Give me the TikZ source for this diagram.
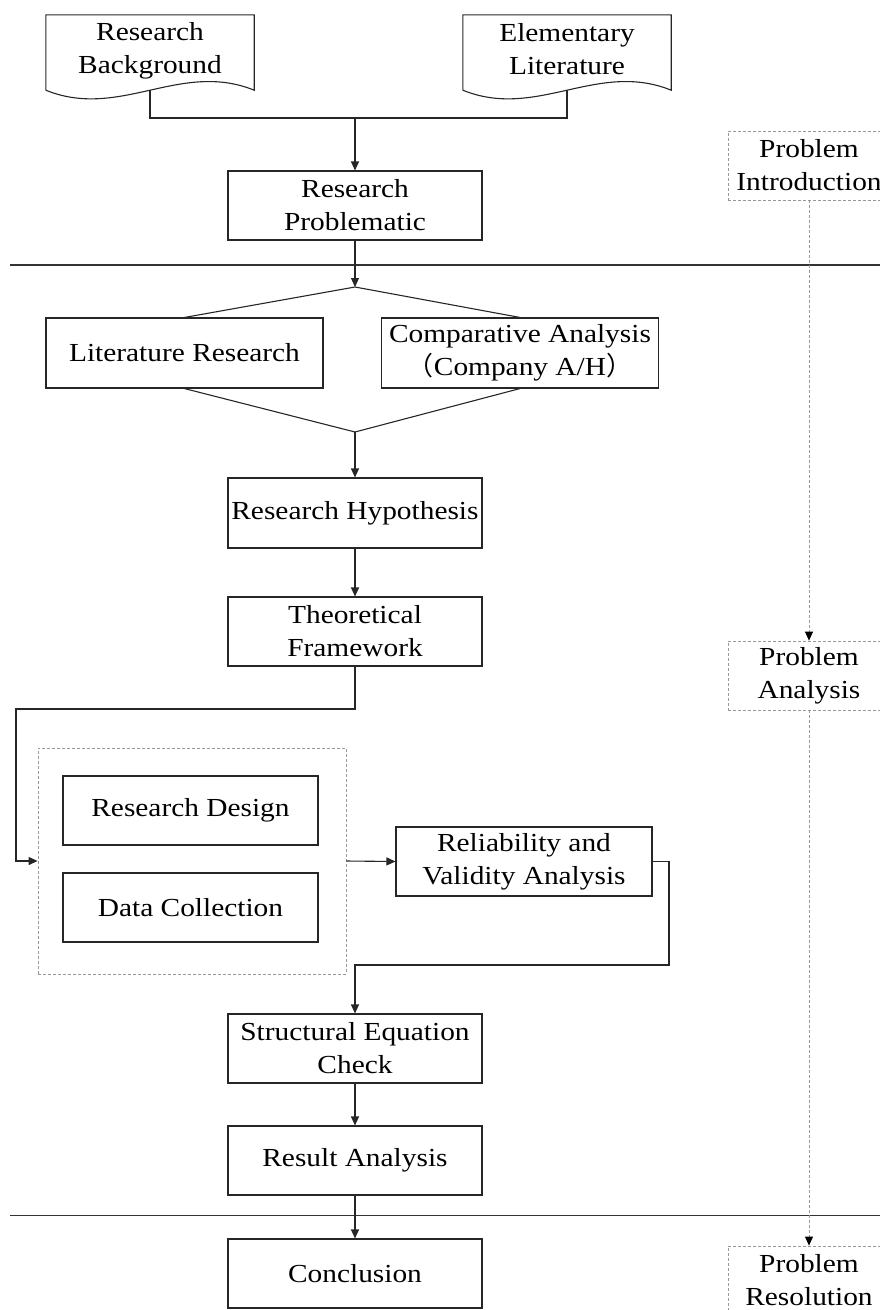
\documentclass[tikz,border=0pt]{standalone}
\usepackage{fontspec}
\setmainfont{Liberation Serif}[FakeStretch=1.13]
\newfontfamily\cjkfont{Noto Sans CJK SC}
\usetikzlibrary{arrows.meta,calc}

\begin{document}
\begin{tikzpicture}[x=1pt,y=-1pt,
  font=\fontsize{26}{33}\selectfont,
  wire/.style={draw=black!85, line width=1.1pt},
  arrow/.style={wire, -{Triangle[length=9pt,width=8pt]}},
  box/.style={wire, align=center, inner sep=0pt, minimum width=#1, minimum height=69pt},
  box/.default=254pt,
  doctext/.style={align=center, inner sep=0pt, minimum width=208pt, minimum height=66pt},
  phase/.style={draw=black!40, line width=0.8pt, dash pattern=on 3pt off 2pt,
    align=center, inner sep=0pt, minimum width=162pt, minimum height=69pt},
  phasearrow/.style={draw=black!40, line width=0.8pt, dash pattern=on 3pt off 2pt,
    -{Triangle[length=9pt,width=8pt,color=black]}},
  group/.style={draw=black!40, line width=0.8pt, dash pattern=on 3pt off 2pt,
    minimum width=308pt, minimum height=226pt, inner sep=0pt},
  rule/.style={draw=black!80, line width=1.1pt}
]
\useasboundingbox (0,0) rectangle (880,1310);

% source documents (text frame plus wavy lower edge)
\node[doctext] (bg) at (150,48) {};
\node[doctext] (el) at (567,48) {};
\node[align=center, inner sep=0pt] (bgtext) at (150,51) {Research\\Background};
\node[align=center, inner sep=0pt] (eltext) at (567,49) {Elementary\\Literature};
\foreach \d in {bg,el}{
  \draw[wire] ($(\d.south west)+(0,9)$) -- (\d.north west) -- (\d.north east)
    -- ($(\d.south east)+(0,9)$)
    .. controls ($(\d.south east)+(-74,-21)$) and ($(\d.south west)+(74,39)$)
    .. ($(\d.south west)+(0,9)$);
}
\coordinate (bgfoot) at ($(bg.south)+(0,9)$);
\coordinate (elfoot) at ($(el.south)+(0,9)$);
\coordinate (jn) at (355,118);

% main flow
\node[box] (rp) at (355,205.5) {Research\\Problematic};
\node[box=277pt, minimum height=70pt] (lr) at (184.5,353) {Literature Research};
\node[box=277pt, minimum height=70pt] (ca) at (520,353) {Comparative Analysis\\{\cjkfont （}Company A/H{\cjkfont ）}};
\node[box, minimum height=70pt] (rh) at (355,513) {Research Hypothesis};
\node[box] (tf) at (355,631.5) {Theoretical\\Framework};

\node[group] (grp) at (192,861) {};
\node[box=255pt] (rd) at (190.5,810.5) {Research Design};
\node[box=255pt] (dc) at (190.5,907.5) {Data Collection};
\node[box=256pt] (rv) at (524,861.5) {Reliability and\\Validity Analysis};

\node[box] (sec) at (355,1048.5) {Structural Equation\\Check};
\node[box] (ra) at (355,1160.5) {Result Analysis};
\node[box] (co) at (355,1273.5) {Conclusion};

% phase labels
\node[phase] (pi) at (809,165.5) {Problem\\Introduction};
\node[phase] (pa) at (809,675.5) {Problem\\Analysis};
\node[phase] (pr) at (809,1280.5) {Problem\\Resolution};

% phase separators
\coordinate (hl1a) at (10,265);
\coordinate (hl1b) at (880,265);
\coordinate (hl2a) at (10,1215.5);
\coordinate (hl2b) at (880,1215.5);
\draw[rule] (hl1a) -- (hl1b);
\draw[rule] (hl2a) -- (hl2b);

% connectors
\draw[wire] (bgfoot) |- (jn);
\draw[wire] (elfoot) |- (jn);
\draw[arrow] (jn) -- (rp.north);

\coordinate (sp) at (355,287);
\draw[arrow] (rp.south) -- (sp);
\draw[wire] (lr.north) -- (sp) -- (ca.north);
\coordinate (mp) at (355,432);
\draw[wire] (lr.south) -- (mp) -- (ca.south);
\draw[arrow] (mp) -- (rh.north);
\draw[arrow] (rh.south) -- (tf.north);

\coordinate (tfbend) at (355,709);
\coordinate (rail) at (16,709);
\draw[arrow] (tf.south) -- (tfbend) -- (rail) |- (grp.west);
\draw[arrow] (grp.east) -- (rv.west);

\coordinate (rvbend) at (669,965);
\draw[arrow] (rv.east) -| (rvbend) -| (sec.north);
\draw[arrow] (sec.south) -- (ra.north);
\draw[arrow] (ra.south) -- (co.north);

\draw[phasearrow] (pi.south) -- (pa.north);
\draw[phasearrow] (pa.south) -- (pr.north);
\end{tikzpicture}
\end{document}
